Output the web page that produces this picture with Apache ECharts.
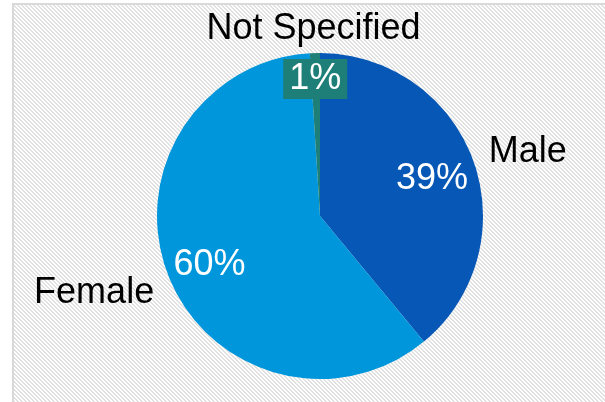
<!DOCTYPE html>
<html>
<head>
<meta charset="utf-8">
<script src="https://cdn.jsdelivr.net/npm/echarts@6/dist/echarts.min.js"></script>
<style>
  html, body { margin: 0; padding: 0; background: #ffffff; }
  #chart { width: 605px; height: 402px; }
</style>
</head>
<body>
<div id="chart"></div>
<script>
// Gender breakdown
const categories = ['Male', 'Female', 'Not Specified'];
const values = [39, 60, 1];
const sliceColors = ['#0757b6', '#0096db', '#1e7f78'];

// Small offsets nudging label positions away from the default pie layout
const nameNudge = [
  { dx: 1, dy: -5 },
  { dx: 0, dy: 13 },
  { dx: 4, dy: -14, align: 'center' }
];
const pctNudge = [
  { dx: -1, dy: 4 },
  { dx: 1, dy: 5 },
  { dx: -1, dy: -17 }
];

// Diagonal hatch tile for the chart area background
function hatchTile() {
  const c = document.createElement('canvas');
  c.width = 4; c.height = 4;
  const g = c.getContext('2d');
  g.fillStyle = '#ffffff';
  g.fillRect(0, 0, 4, 4);
  g.fillStyle = '#e1e1e1';
  for (let y = 0; y < 4; y++) {
    for (let x = 0; x < 4; x++) {
      const k = ((x - y) % 4 + 4) % 4;
      if (k === 0 || k === 1) g.fillRect(x, y, 1, 1);
    }
  }
  return c;
}

const font = '"Liberation Sans", Arial, sans-serif';
const center = [320, 216];
const radius = 163;

const pieData = categories.map((name, i) => ({
  name: name,
  value: values[i],
  itemStyle: { color: sliceColors[i] }
}));

const chart = echarts.init(document.getElementById('chart'), null, { renderer: 'canvas' });

chart.setOption({
  animation: false,
  backgroundColor: '#ffffff',
  graphic: [{
    type: 'rect',
    z: -10,
    shape: { x: 13, y: 4, width: 600, height: 410 },
    style: {
      fill: { image: hatchTile(), repeat: 'repeat' },
      stroke: '#d9d9d9',
      lineWidth: 2
    },
    silent: true
  }],
  series: [
    {
      // slices with category names outside
      type: 'pie',
      center: center,
      radius: radius,
      startAngle: 90,
      clockwise: true,
      silent: true,
      data: pieData,
      label: {
        show: true,
        position: 'outside',
        formatter: '{b}',
        fontFamily: font,
        fontSize: 36,
        color: '#000000',
        distanceToLabelLine: 5
      },
      labelLine: { show: false, length: 10, length2: 0 },
      labelLayout: function (p) {
        return nameNudge[p.dataIndex];
      }
    },
    {
      // percentage labels placed toward the rim
      type: 'pie',
      center: center,
      radius: [71, radius],
      startAngle: 90,
      clockwise: true,
      silent: true,
      z: 3,
      data: categories.map((name, i) => ({
        name: name,
        value: values[i],
        label: i === 2 ? {
          backgroundColor: sliceColors[2],
          padding: [2, 6, 2, 6]
        } : {}
      })),
      itemStyle: { color: 'rgba(0,0,0,0)' },
      label: {
        show: true,
        position: 'inside',
        formatter: function (p) { return Math.round(p.percent) + '%'; },
        fontFamily: font,
        fontSize: 36,
        color: '#ffffff'
      },
      labelLine: { show: false },
      labelLayout: function (p) {
        return pctNudge[p.dataIndex];
      }
    }
  ]
});
</script>
</body>
</html>
